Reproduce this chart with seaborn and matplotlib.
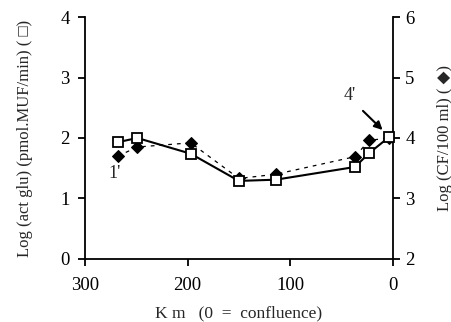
import matplotlib
matplotlib.use("Agg")
import matplotlib.pyplot as plt
import seaborn as sns
import pandas as pd

# Data
km_glu = [268, 249, 197, 150, 114, 37, 23, 4]
act_glu = [1.93, 2.00, 1.74, 1.29, 1.31, 1.52, 1.75, 2.01]
km_cf = [268, 249, 197, 150, 114, 37, 23, 4]
log_cf = [3.70, 3.85, 3.92, 3.33, 3.40, 3.69, 3.96, 4.00]
x_ticks = [300, 200, 100, 0]
left_ticks = [0, 1, 2, 3, 4]
right_ticks = [2, 3, 4, 5, 6]

sns.set_style("ticks")
plt.rcParams['font.family'] = ['Liberation Serif', 'DejaVu Sans']
plt.rcParams['font.size'] = 12

df_glu = pd.DataFrame({"km": km_glu, "val": act_glu})
df_cf = pd.DataFrame({"km": km_cf, "val": log_cf})

fig = plt.figure(figsize=(4.52, 3.22), dpi=100)
ax = fig.add_axes([0.188, 0.196, 0.681, 0.751])
ax2 = ax.twinx()

sns.lineplot(data=df_cf, x="km", y="val", ax=ax2, color="black", linewidth=0.9,
             linestyle=(0, (3, 4)), marker="D", markersize=6.5, markerfacecolor="black",
             markeredgecolor="black", sort=False, zorder=2)
sns.lineplot(data=df_glu, x="km", y="val", ax=ax, color="black", linewidth=1.5,
             marker="s", markersize=7.5, markerfacecolor="white",
             markeredgecolor="black", markeredgewidth=1.3, sort=False, zorder=3,
             clip_on=False)
ax.set_zorder(ax2.get_zorder() + 1)
ax.patch.set_visible(False)

ax.set_xlim(300, 0)
ax.set_ylim(0, 4)
ax2.set_ylim(2, 6)
ax.set_xticks(x_ticks)
ax.set_yticks(left_ticks)
ax2.set_yticks(right_ticks)

for a in (ax, ax2):
    a.spines['top'].set_visible(False)
    for s in a.spines.values():
        s.set_linewidth(1.3)
        s.set_color("black")
    a.tick_params(direction='out', length=5, width=1.3, colors='black', labelsize=13.5)
ax.tick_params(axis='y', pad=6)
ax.tick_params(axis='x', pad=8)
ax2.tick_params(axis='y', pad=4)
ax.spines['right'].set_visible(False)
ax2.spines['left'].set_visible(False)
ax2.spines['bottom'].set_visible(False)
ax2.spines['right'].set_visible(True)

ax.set_xlabel("K m   (0  =  confluence)", fontsize=12.5, labelpad=8)
ax.set_ylabel("Log (act glu) (pmol.MUF/min) ( \u25a1)", fontsize=12, labelpad=20)
ax2.set_ylabel("Log (CF/100 ml) ( \u25c6)", fontsize=12, rotation=90, labelpad=16)

ax.text(271, 1.42, "1'", ha="center", va="center", fontsize=13)
ax.text(42, 2.70, "4'", ha="center", va="center", fontsize=13)
ax.annotate("", xy=(8, 2.10), xytext=(31, 2.48),
            arrowprops=dict(arrowstyle="-|>", color="black", lw=1.5, mutation_scale=12))

fig.savefig("out.png", dpi=100)
